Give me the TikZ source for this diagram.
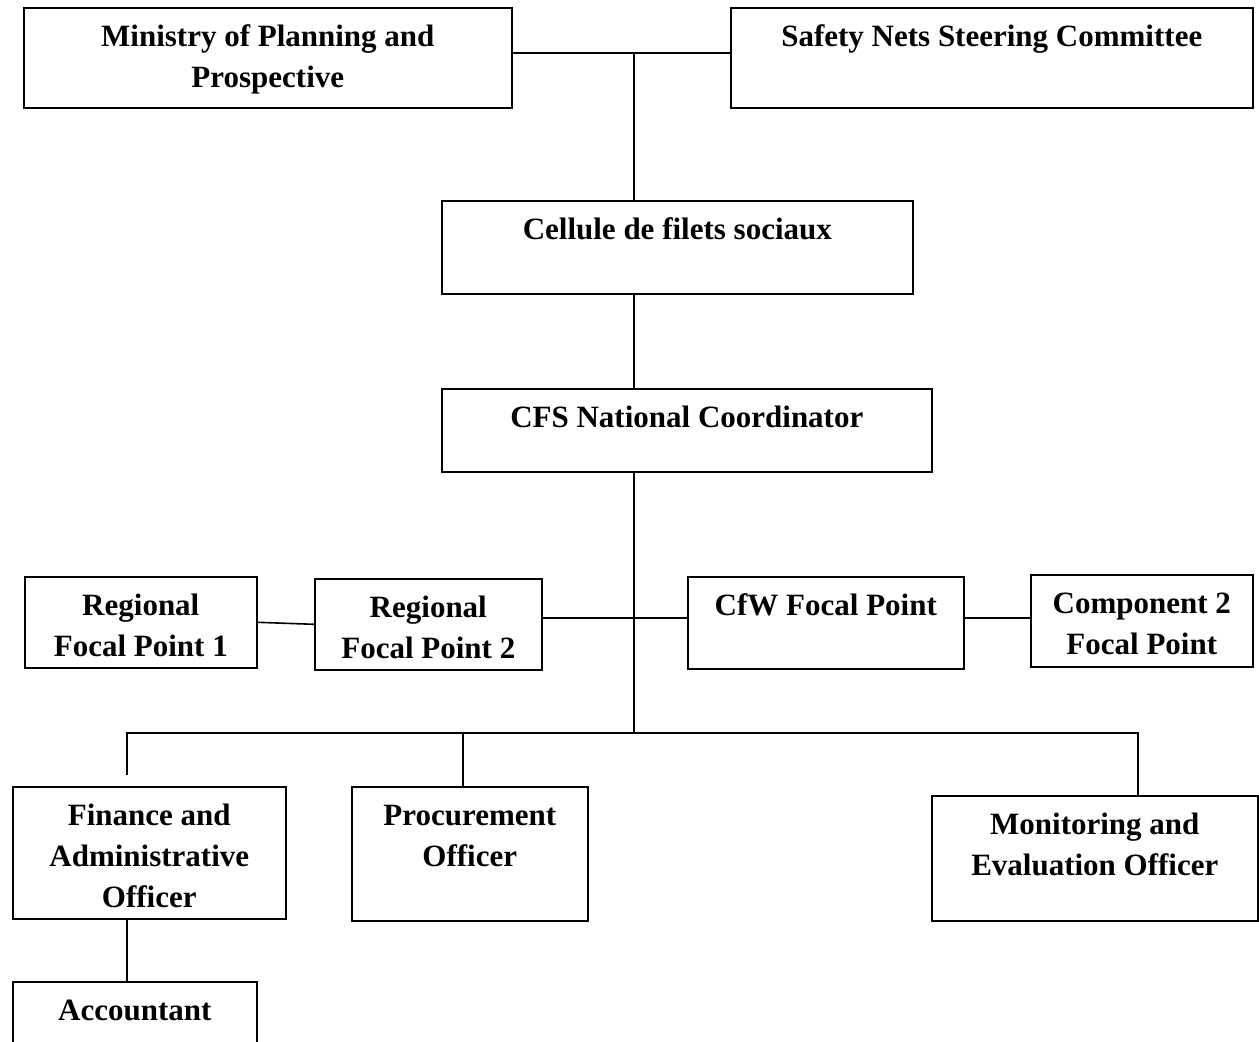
\documentclass[tikz,border=0pt]{standalone}
\usepackage{fontspec}
\setmainfont{Liberation Serif}
\tikzset{
  orgbox/.style={draw, line width=1.6pt, rectangle, inner sep=0pt, anchor=north west},
  orgtext/.style={anchor=base, inner sep=0pt, align=center, font=\bfseries\fontsize{31}{41}\selectfont},
  link/.style={line width=1.6pt}
}
\newcommand\orgunit[6]{%
  \node[orgbox, minimum width=#4pt, minimum height=#5pt] (#1) at (#2,#3) {};
  \node[orgtext] (#1t) at ([yshift=-39pt]#1.north) {\begin{tabular}[t]{@{}c@{}}#6\end{tabular}};
}
\begin{document}
\begin{tikzpicture}[x=1pt, y=-1pt]
\fill[white] (0,0) rectangle (1259,1042);
\useasboundingbox (0,0) rectangle (1259,1042);

\orgunit{min}{23}{7}{488}{100}{Ministry of Planning and\\Prospective}
\orgunit{snsc}{730}{7}{522}{100}{Safety Nets Steering Committee}
\orgunit{cell}{441}{200}{471}{93}{Cellule de filets sociaux}
\orgunit{cfs}{441}{388}{490}{83}{CFS National Coordinator}
\orgunit{rfpa}{24}{576}{232}{91}{Regional\\Focal Point 1}
\orgunit{rfpb}{314}{578}{227}{91}{Regional\\Focal Point 2}
\orgunit{cfw}{687}{576}{276}{92}{CfW Focal Point}
\orgunit{comp}{1030}{574}{222}{92}{Component 2\\Focal Point}
\orgunit{fin}{12}{786}{273}{132}{Finance and\\Administrative\\Officer}
\orgunit{proc}{351}{786}{236}{134}{Procurement\\Officer}
\orgunit{me}{931}{795}{326}{125}{Monitoring and\\Evaluation Officer}
\orgunit{acc}{12}{981}{244}{80}{Accountant}

\coordinate (top) at (634,53);
\coordinate (mid) at (634,618);
\coordinate (bus) at (634,733);
\coordinate (busL) at (127,733);
\coordinate (busP) at (463,733);
\coordinate (busR) at (1138,733);
\coordinate (finT) at (127,775);

\draw[link] (min.east |- top) -- (snsc.west |- top);
\draw[link] (top) -- (cell.north -| top);
\draw[link] (cell.south -| top) -- (cfs.north -| top);
\draw[link] (cfs.south -| top) -- (bus);
\draw[link] (rfpb.east |- mid) -- (cfw.west |- mid);
\draw[link] (rfpa.east) -- (rfpb.west);
\draw[link] (cfw.east |- mid) -- (comp.west |- mid);
\draw[link] (finT) -- (busL) -- (busR) -- (me.north -| busR);
\draw[link] (busP) -- (proc.north -| busP);
\draw[link] (fin.south -| busL) -- (acc.north -| busL);
\end{tikzpicture}
\end{document}
